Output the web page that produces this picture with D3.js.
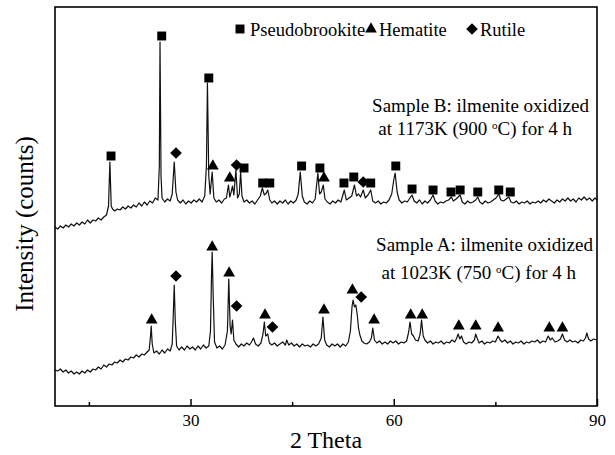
<!DOCTYPE html>
<html><head><meta charset="utf-8">
<script src="https://cdn.jsdelivr.net/npm/d3@7"></script>
<style>body{margin:0;background:#fff}svg{display:block}text{font-family:"Liberation Serif","Times New Roman",serif;fill:#000}</style>
</head><body>
<svg id="c" width="615" height="455"></svg>
<script>
// ---- data (2 Theta, intensity in arbitrary counts) ----
const sampleB = [[10.0,179],[10.4,177],[10.8,180],[11.2,178],[11.6,181],[12.0,179],[12.4,182],[12.8,180],[13.2,183],[13.6,181],[14.0,184],[14.4,182],[14.8,186],[15.2,183],[15.6,186],[16.0,185],[16.4,188],[16.8,186],[17.2,189],[17.6,191],[17.9,200],[18.1,244],[18.3,200],[18.5,197],[18.8,195],[19.2,197],[19.6,196],[20.0,199],[20.4,197],[20.8,200],[21.2,198],[21.6,201],[22.0,199],[22.4,203],[22.8,200],[23.2,204],[23.6,201],[24.0,205],[24.4,203],[24.8,208],[25.2,206],[25.4,240],[25.5,364],[25.65,230],[25.8,208],[26.2,204],[26.6,207],[27.0,205],[27.3,212],[27.6,244],[27.85,214],[28.1,206],[28.5,203],[28.9,206],[29.3,202],[29.7,205],[30.1,203],[30.5,206],[30.9,204],[31.3,207],[31.7,204],[32.1,210],[32.35,240],[32.5,323],[32.7,230],[32.9,212],[33.2,234],[33.45,208],[33.8,204],[34.2,206],[34.6,203],[35.0,207],[35.3,208],[35.6,221],[35.8,209],[36.0,214],[36.2,220],[36.4,211],[36.7,236],[36.95,208],[37.2,212],[37.4,234],[37.6,210],[37.9,204],[38.3,206],[38.7,203],[39.1,205],[39.5,202],[39.9,206],[40.3,210],[40.6,218],[40.9,211],[41.2,213],[41.4,216],[41.7,206],[42.0,203],[42.4,205],[42.8,202],[43.2,205],[43.6,203],[44.0,206],[44.4,202],[44.8,205],[45.2,203],[45.6,206],[45.9,212],[46.2,234],[46.5,210],[46.8,204],[47.2,202],[47.6,205],[48.0,203],[48.4,207],[48.8,233],[49.05,212],[49.3,214],[49.6,221],[49.85,207],[50.2,204],[50.6,202],[51.0,205],[51.4,203],[51.8,206],[52.2,204],[52.7,216],[53.0,206],[53.4,208],[53.8,210],[54.2,221],[54.5,210],[54.8,212],[55.1,209],[55.5,216],[55.8,208],[56.2,211],[56.6,216],[56.9,205],[57.3,203],[57.7,205],[58.1,202],[58.5,204],[58.9,203],[59.3,206],[59.7,212],[60.0,226],[60.2,233],[60.5,214],[60.8,206],[61.2,203],[61.6,205],[62.0,204],[62.4,208],[62.7,211],[63.0,205],[63.4,203],[63.8,206],[64.2,202],[64.6,205],[65.0,203],[65.4,206],[65.8,211],[66.1,205],[66.5,202],[66.9,204],[67.3,203],[67.7,205],[68.1,206],[68.5,209],[68.8,205],[69.2,207],[69.5,209],[69.8,211],[70.1,204],[70.5,202],[70.9,205],[71.3,203],[71.7,204],[72.1,206],[72.4,209],[72.7,204],[73.1,202],[73.5,205],[73.9,203],[74.3,204],[74.7,206],[75.1,208],[75.5,212],[75.8,206],[76.2,205],[76.6,207],[77.0,209],[77.3,204],[77.7,203],[78.1,205],[78.5,202],[78.9,204],[79.3,203],[79.7,205],[80.1,202],[80.5,204],[80.9,203],[81.3,205],[81.7,203],[82.1,206],[82.5,204],[82.9,207],[83.3,205],[83.7,203],[84.1,206],[84.5,204],[84.9,207],[85.3,205],[85.7,208],[86.1,205],[86.5,207],[86.9,204],[87.3,208],[87.7,206],[88.1,209],[88.5,206],[88.9,208],[89.3,205],[89.7,208],[90.0,206]];

const sampleA = [[10.0,36],[10.4,35],[10.8,37],[11.2,34],[11.6,36],[12.0,33],[12.4,35],[12.8,32],[13.2,34],[13.6,32],[14.0,35],[14.4,33],[14.8,36],[15.2,34],[15.6,37],[16.0,36],[16.4,39],[16.8,37],[17.2,41],[17.6,39],[18.0,42],[18.4,41],[18.8,44],[19.2,43],[19.6,46],[20.0,44],[20.4,47],[20.8,46],[21.2,49],[21.6,48],[22.0,51],[22.4,49],[22.8,52],[23.2,51],[23.6,54],[23.9,56],[24.1,70],[24.2,80],[24.35,62],[24.6,53],[25.0,55],[25.4,52],[25.8,56],[26.2,53],[26.6,57],[27.0,55],[27.3,62],[27.45,90],[27.6,121],[27.75,85],[27.95,60],[28.3,56],[28.7,59],[29.1,56],[29.5,60],[29.9,57],[30.3,59],[30.7,56],[31.1,60],[31.5,57],[31.9,61],[32.3,58],[32.7,60],[32.95,75],[33.1,130],[33.2,154],[33.35,110],[33.55,64],[33.9,58],[34.3,60],[34.7,57],[35.1,61],[35.45,75],[35.65,127],[35.85,80],[36.0,72],[36.2,86],[36.4,66],[36.7,62],[37.1,59],[37.5,62],[37.9,60],[38.3,63],[38.7,61],[39.0,64],[39.3,68],[39.6,62],[40.0,60],[40.4,63],[40.7,72],[40.9,84],[41.1,70],[41.4,72],[41.65,63],[42.0,61],[42.4,63],[42.8,60],[43.2,62],[43.6,64],[44.0,61],[44.2,66],[44.5,61],[44.9,63],[45.3,60],[45.7,62],[46.1,59],[46.5,62],[46.9,60],[47.3,61],[47.7,59],[48.1,62],[48.5,60],[48.9,62],[49.3,68],[49.55,89],[49.8,66],[50.1,61],[50.5,59],[50.9,62],[51.3,60],[51.7,62],[52.1,59],[52.5,62],[52.9,60],[53.3,64],[53.6,75],[53.85,100],[54.0,106],[54.2,99],[54.4,101],[54.6,92],[54.8,78],[55.0,71],[55.3,65],[55.6,63],[56.0,62],[56.4,64],[56.7,68],[56.9,78],[57.15,66],[57.5,63],[57.9,65],[58.3,62],[58.7,64],[59.1,62],[59.5,65],[59.9,63],[60.3,65],[60.7,62],[61.1,64],[61.5,63],[61.9,65],[62.2,74],[62.4,84],[62.65,72],[62.9,70],[63.2,66],[63.6,65],[63.9,72],[64.1,86],[64.35,70],[64.6,66],[65.0,63],[65.4,65],[65.8,62],[66.2,64],[66.6,63],[67.0,65],[67.4,62],[67.8,64],[68.2,63],[68.6,66],[69.0,64],[69.3,68],[69.5,72],[69.75,67],[70.0,70],[70.3,64],[70.7,62],[71.1,64],[71.5,63],[71.9,66],[72.1,72],[72.35,67],[72.6,63],[73.0,65],[73.4,62],[73.8,64],[74.2,63],[74.6,65],[75.0,64],[75.4,70],[75.7,66],[76.0,64],[76.4,66],[76.8,63],[77.2,65],[77.6,62],[78.0,64],[78.4,63],[78.8,65],[79.2,62],[79.6,64],[80.0,63],[80.4,65],[80.8,64],[81.2,66],[81.6,63],[82.0,65],[82.4,64],[82.8,70],[83.1,66],[83.4,68],[83.8,64],[84.2,65],[84.6,67],[84.9,72],[85.2,66],[85.6,64],[86.0,66],[86.4,64],[86.8,65],[87.2,63],[87.6,66],[88.0,65],[88.3,68],[88.5,73],[88.75,67],[89.1,65],[89.5,67],[90.0,66]];

// phase markers: [2 Theta, intensity, phase]
const markersB = [[18.27,250,"P"],[25.75,370,"P"],[32.7,328,"P"],[37.9,238,"P"],[40.66,223,"P"],[41.7,223,"P"],[46.4,240,"P"],[49.1,238,"P"],[52.65,223,"P"],[54.1,229,"P"],[56.6,223,"P"],[60.3,240,"P"],[62.7,217,"P"],[65.8,216,"P"],[68.45,214,"P"],[69.8,216,"P"],[72.4,214,"P"],[75.5,216,"P"],[77.2,214,"P"],
  [33.3,240,"H"],[35.8,228,"H"],[49.7,228,"H"],
  [27.86,253,"R"],[36.8,241,"R"],[55.5,224,"R"]];
const markersA = [[24.27,86,"H"],[33.2,159,"H"],[35.7,133,"H"],[41.0,91,"H"],[49.7,96,"H"],[53.9,116,"H"],[57.1,86,"H"],[62.5,91,"H"],[64.2,91,"H"],[69.6,80,"H"],[72.1,80,"H"],[75.4,78,"H"],[82.96,78,"H"],[84.9,78,"H"],
  [27.86,130,"R"],[36.8,100,"R"],[42.1,79,"R"],[55.2,109,"R"]];

const legendNames = ["Pseudobrookite","Hematite","Rutile"];
const legendCodes = ["P","H","R"];
const majorTicks = [30,60,90];
const minorTicks = [15,45,75];
const xDomain = [10,90];
const yDomain = [0,399];
const labelB = ["Sample B: ilmenite oxidized", "at 1173K (900 ", "o", "C) for 4 h"];
const labelA = ["Sample A: ilmenite oxidized", "at 1023K (750 ", "o", "C) for 4 h"];

// ---- drawing ----
const svg = d3.select("#c");
const L=55,R=597,T=7,B=406;
const x = d3.scaleLinear().domain(xDomain).range([L,R]);
const y = d3.scaleLinear().domain(yDomain).range([B,T]);

const line = d3.line().x(d=>x(d[0])).y(d=>y(d[1]));
[sampleB, sampleA].forEach(s=>{
  svg.append("path").attr("d", line(s)).attr("fill","none").attr("stroke","#111").attr("stroke-width",1.2).attr("stroke-linejoin","round");
});

const shapes = {
  P: d3.symbol().type(d3.symbolSquare).size(80),
  H: d3.symbol().type(d3.symbolTriangle).size(60),
  R: d3.symbol().type(d3.symbolSquare).size(68)
};
function drawMarker(g, cx, cy, code){
  g.append("path").attr("d", shapes[code]())
   .attr("transform", `translate(${cx},${cy})` + (code==="R" ? " rotate(45)" : ""))
   .attr("fill","#000");
}
[markersB, markersA].forEach(ms=>{
  const g = svg.append("g");
  ms.forEach(m=>drawMarker(g, x(m[0]), y(m[1]), m[2]));
});

// axes
const axMajor = d3.axisBottom(x).tickValues(majorTicks).tickSize(-7).tickFormat(d3.format("d"));
const axMinor = d3.axisBottom(x).tickValues(minorTicks).tickSize(-4).tickFormat("");
const gx = svg.append("g").attr("transform",`translate(0,${B})`).call(axMajor);
svg.append("g").attr("transform",`translate(0,${B})`).call(axMinor);
svg.selectAll(".domain").remove();
svg.selectAll(".tick line").attr("stroke","#000").attr("stroke-width",1.5);
gx.selectAll(".tick text").attr("font-size",17).attr("dy","1.0em").attr("font-family","Liberation Serif").attr("fill","#000");

svg.append("rect").attr("x",L).attr("y",T).attr("width",R-L).attr("height",B-T)
  .attr("fill","none").attr("stroke","#000").attr("stroke-width",1.6);

// axis titles
svg.append("text").attr("x",(L+R)/2).attr("y",448).attr("text-anchor","middle").attr("font-size",24).text("2 Theta");
svg.append("text").attr("transform",`translate(33,224) rotate(-90)`).attr("text-anchor","middle").attr("font-size",25).text("Intensity (counts)");

// legend
const legX = [240, 371, 472];
legendNames.forEach((n,i)=>{
  drawMarker(svg, legX[i], 29, legendCodes[i]);
  svg.append("text").attr("x", legX[i]+(i===0?10:8)).attr("y",36).attr("font-size",18.5).text(n);
});

// sample labels
function sampleLabel(lines, xr, y1, y2){
  svg.append("text").attr("x",xr).attr("y",y1).attr("text-anchor","end").attr("font-size",19).text(lines[0]);
  const t = svg.append("text").attr("x",xr-17).attr("y",y2).attr("text-anchor","end").attr("font-size",19);
  t.append("tspan").text(lines[1]);
  t.append("tspan").attr("font-size",11).attr("dy",-6).text(lines[2]);
  t.append("tspan").attr("dy",6).text(lines[3]);
}
sampleLabel(labelB, 589, 112, 135);
sampleLabel(labelA, 593, 251, 279);
</script>
</body></html>
